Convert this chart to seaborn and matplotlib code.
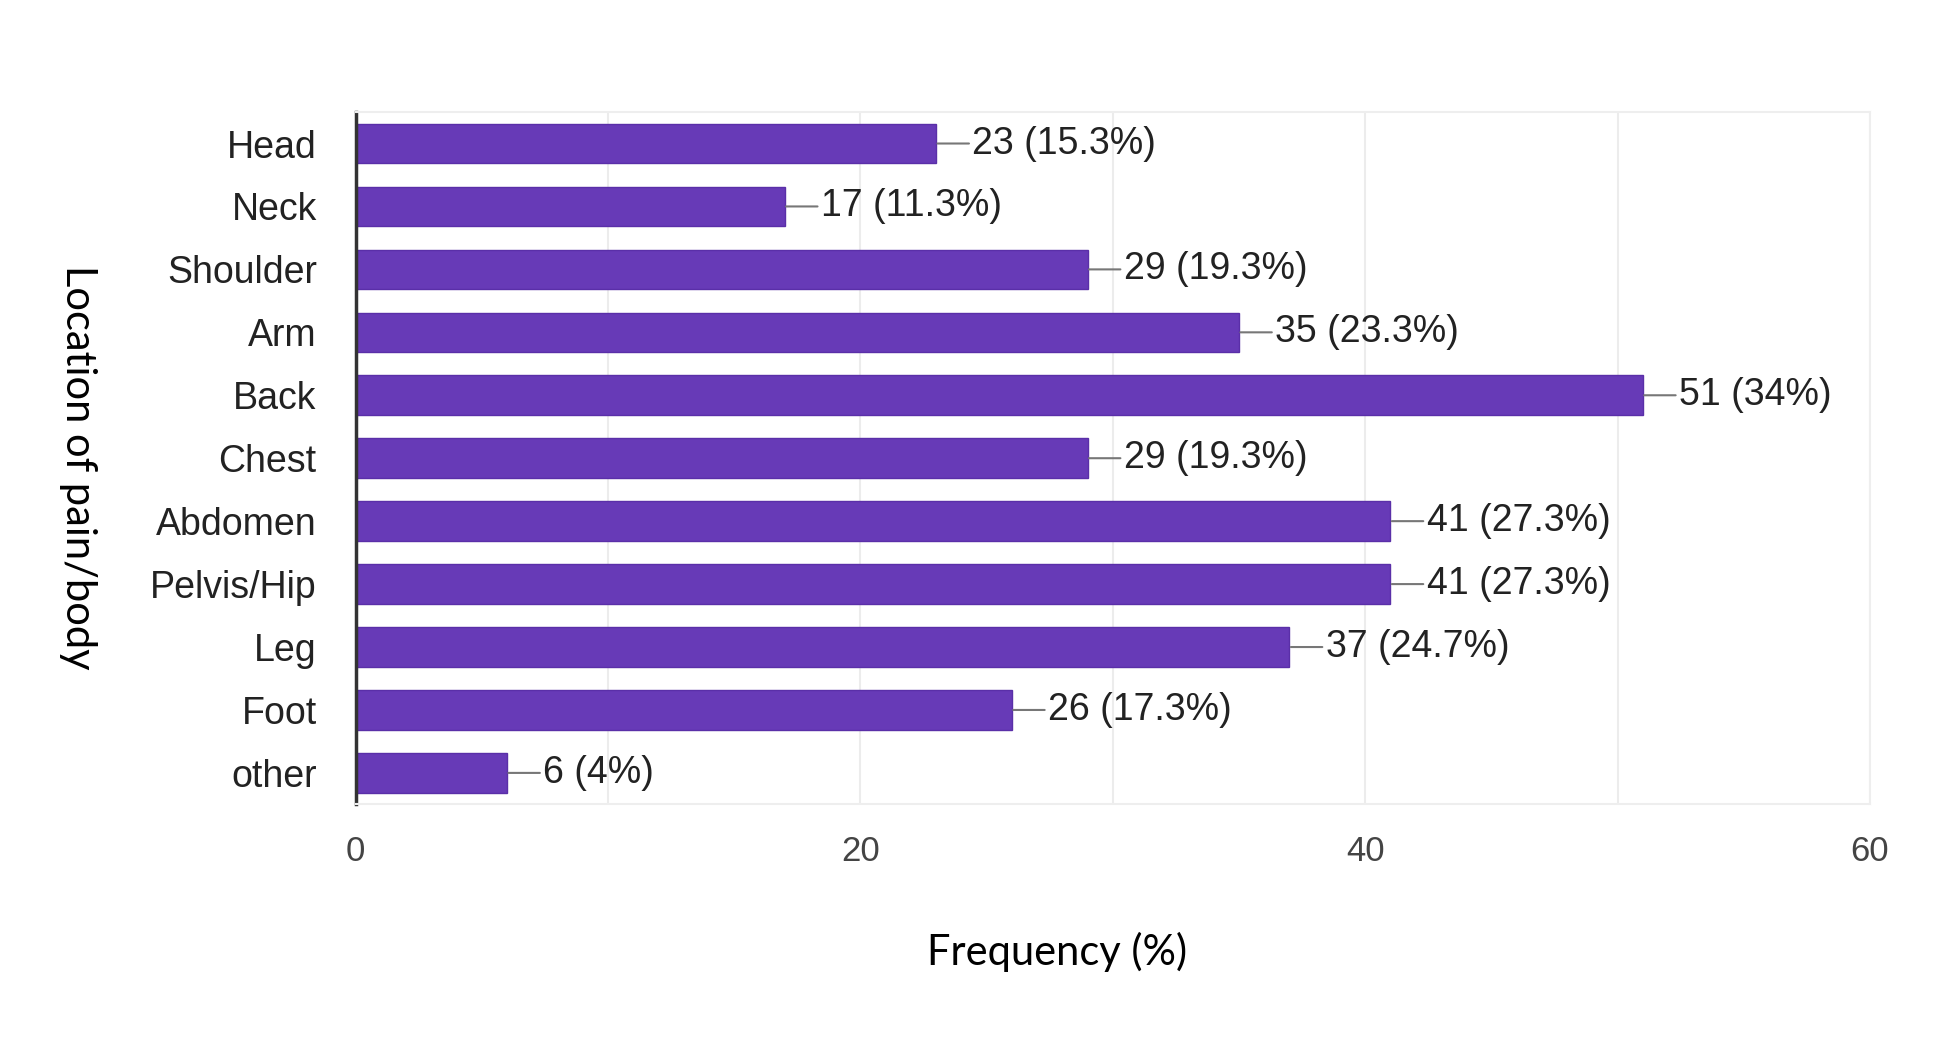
import matplotlib
matplotlib.use("Agg")
import matplotlib.pyplot as plt
import seaborn as sns
import pandas as pd

# Data
locations = ["Head", "Neck", "Shoulder", "Arm", "Back", "Chest",
             "Abdomen", "Pelvis/Hip", "Leg", "Foot", "other"]
counts = [23, 17, 29, 35, 51, 29, 41, 41, 37, 26, 6]
percents = [15.3, 11.3, 19.3, 23.3, 34, 19.3, 27.3, 27.3, 24.7, 17.3, 4]
x_ticks = [0, 20, 40, 60]

df = pd.DataFrame({"location": locations, "count": counts, "pct": percents})

sns.set_theme(style="white")
plt.rcParams["font.family"] = ["Liberation Sans", "DejaVu Sans"]

fig = plt.figure(figsize=(19.54, 10.57), dpi=100)
ax = fig.add_axes([0.182, 0.239, 0.775, 0.655])

sns.barplot(data=df, x="count", y="location", orient="h", color="#673AB7",
            saturation=1, width=0.63, edgecolor="#5a2fa8", linewidth=1, ax=ax)

# value labels with short connector line
for i, (c, p) in enumerate(zip(df["count"], df["pct"])):
    ax.annotate(f"{c} ({p:g}%)", xy=(c, i), xytext=(26, 0),
                textcoords="offset points", va="center", ha="left",
                fontsize=27, color="#222222",
                arrowprops=dict(arrowstyle="-", color="#777777", lw=1.5,
                                shrinkA=0, shrinkB=1))

ax.set_xlim(0, 60)
ax.set_ylim(10.5, -0.5)
ax.set_xticks(range(0, 61, 10))
ax.set_xticklabels([str(t) if t in x_ticks else "" for t in range(0, 61, 10)])
ax.grid(axis="x", color="#ececec", lw=1.5)
ax.set_axisbelow(True)
ax.tick_params(axis="x", labelsize=25, labelcolor="#444444", pad=22, length=0)
ax.tick_params(axis="y", labelsize=27, labelcolor="#222222", pad=28, length=0)
ax.set_xlabel("")
ax.set_ylabel("")

for s in ["top", "bottom", "right"]:
    ax.spines[s].set_color("#eeeeee")
    ax.spines[s].set_linewidth(1.5)
ax.spines["left"].set_color("#333333")
ax.spines["left"].set_linewidth(2.5)

fig.text(0.541, 0.099, "Frequency (%)", ha="center", va="center",
         fontsize=30, color="black", family=["Lato", "DejaVu Sans"])
fig.text(0.040, 0.558, "Location of pain/body", ha="center", va="center",
         rotation=-90, fontsize=30, color="black", family=["Lato", "DejaVu Sans"])

fig.savefig("out.png", dpi=100, facecolor="white")
